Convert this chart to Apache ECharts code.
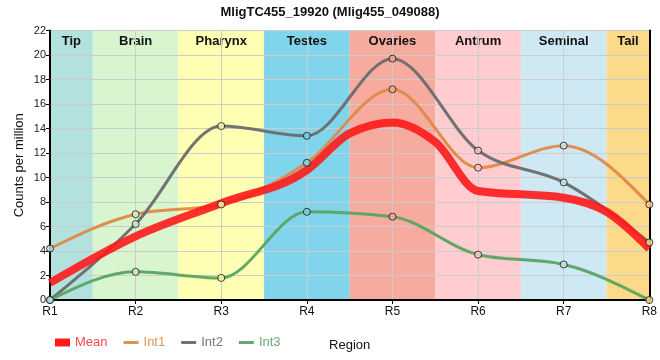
<!DOCTYPE html>
<html><head><meta charset="utf-8">
<script src="https://cdn.jsdelivr.net/npm/echarts@6/dist/echarts.min.js"></script>
<style>html,body{margin:0;padding:0;background:#fff}#c{width:660px;height:360px}</style>
</head><body><div id="c"></div>
<script>
var regions = ['R1','R2','R3','R4','R5','R6','R7','R8'];
var positions = [1,2,3,4,5,6,7,8];
var bandNames = ['Tip','Brain','Pharynx','Testes','Ovaries','Antrum','Seminal','Tail'];
var bandStart = [1,1.5,2.5,3.5,4.5,5.5,6.5,7.5];
var bandEnd = [1.5,2.5,3.5,4.5,5.5,6.5,7.5,8];
var bandColors = ['#b3e2de','#d8f5cf','#ffffb3','#80d4eb','#f6ab9e','#ffccd0','#cee9f4','#fdd98a'];
// mean line (no markers) read at region centres plus a few band edges
var meanPositions = [1, 2, 3, 4, 4.5, 5, 5.5, 6, 7, 7.5, 8];
var meanVals = [1.4, 5.2, 7.9, 10.6, 13.6, 14.5, 12.9, 8.9, 8.35, 7.2, 4.2];
var int1Vals = [4.2, 7.0, 7.8, 11.2, 17.2, 10.8, 12.6, 7.8];
var int2Vals = [0, 6.2, 14.2, 13.4, 19.7, 12.2, 9.6, 4.7];
var int3Vals = [0, 2.3, 1.8, 7.2, 6.8, 3.7, 2.9, 0];
var yTicks = [0,2,4,6,8,10,12,14,16,18,20,22];

var colors = {Mean:'#ff1a1a', Int1:'#df8a48', Int2:'#6b6b6b', Int3:'#5aa462'};
var textColors = {Mean:'#ff4a4a', Int1:'#e0955a', Int2:'#777777', Int3:'#66aa6e'};

function pairs(xs, vals){ return xs.map(function(p,i){ return [p, vals[i]]; }); }
function markerPairs(vals){ return positions.map(function(p,i){ return {value:[p, vals[i]], itemStyle:{color:bandColors[i]}}; }); }

// monotone cubic (Fritsch-Carlson, as d3.curveMonotoneX) tangents
function sgn(x){ return x < 0 ? -1 : 1; }
function tangents(xs, ys){
  var n = xs.length, t = new Array(n), s = [], h = [];
  for (var i=0;i<n-1;i++){ h[i]=xs[i+1]-xs[i]; s[i]=(ys[i+1]-ys[i])/h[i]; }
  for (var k=1;k<n-1;k++){
    var p = (s[k-1]*h[k] + s[k]*h[k-1])/(h[k-1]+h[k]);
    t[k] = (sgn(s[k-1])+sgn(s[k])) * Math.min(Math.abs(s[k-1]), Math.abs(s[k]), 0.5*Math.abs(p)) || 0;
  }
  t[0] = (3*s[0] - t[1])/2;
  t[n-1] = (3*s[n-2] - t[n-2])/2;
  return t;
}

var chart = echarts.init(document.getElementById('c'), null, {renderer:'canvas'});
var font = 'Liberation Sans, Arial, sans-serif';
var areas = bandNames.map(function(n,i){
  return [{xAxis:bandStart[i], yAxis:0, name:n, itemStyle:{color:bandColors[i]}}, {xAxis:bandEnd[i], yAxis:22}];
});
function curveSeries(name, xs, vals, width, z, opacity){
  var t = tangents(xs, vals);
  return {type:'custom', name:name, data:pairs(xs, vals), z:z, clip:false, silent:true,
    itemStyle:{color:colors[name]},
    renderItem:function(params, api){
      if (params.dataIndex !== 0) return null;
      var p0 = api.coord([xs[0], vals[0]]);
      var d = 'M' + p0[0] + ' ' + p0[1];
      for (var i=0;i<xs.length-1;i++){
        var dx = (xs[i+1]-xs[i])/3;
        var c1 = api.coord([xs[i]+dx, vals[i]+dx*t[i]]);
        var c2 = api.coord([xs[i+1]-dx, vals[i+1]-dx*t[i+1]]);
        var e = api.coord([xs[i+1], vals[i+1]]);
        d += ' C' + c1[0]+' '+c1[1]+' '+c2[0]+' '+c2[1]+' '+e[0]+' '+e[1];
      }
      return {type:'path', shape:{pathData:d}, style:{fill:'none', stroke:colors[name], lineWidth:width, opacity:opacity, lineJoin:'round', lineCap:'butt'}};
    },
    animation:false};
}
function markerSeries(name, vals){
  return {type:'scatter', name:name+'_pts', data:markerPairs(vals), symbol:'circle', symbolSize:7, z:20,
    itemStyle:{borderColor:'#111', borderWidth:1}, animation:false, silent:true};
}
chart.setOption({
  animation:false,
  textStyle:{fontFamily:font},
  title:{text:'MligTC455_19920 (Mlig455_049088)', left:'center', top:1,
    textStyle:{fontSize:13, fontWeight:'bold', color:'#111', fontFamily:font}},
  grid:{left:50, right:10, top:30.5, bottom:60, containLabel:false},
  legend:{left:50, top:331, itemGap:16, itemWidth:15, itemHeight:8,
    textStyle:{fontSize:13, fontFamily:font},
    data:[
      {name:'Mean', icon:'rect', textStyle:{color:textColors.Mean}},
      {name:'Int1', icon:'path://M0,0H16V3H0Z', textStyle:{color:textColors.Int1}},
      {name:'Int2', icon:'path://M0,0H16V3H0Z', textStyle:{color:textColors.Int2}},
      {name:'Int3', icon:'path://M0,0H16V3H0Z', textStyle:{color:textColors.Int3}}
    ]},
  xAxis:{type:'value', min:1, max:8, interval:1, z:3,
    name:'Region', nameLocation:'middle', nameGap:39, nameTextStyle:{fontSize:13, color:'#111', fontFamily:font},
    axisLine:{lineStyle:{color:'#000', width:2}},
    axisTick:{show:true, length:4, lineStyle:{color:'#000'}},
    axisLabel:{fontSize:12, color:'#111', margin:6, fontFamily:font, formatter:function(v){ return regions[positions.indexOf(v)] || ''; }},
    splitLine:{show:true, lineStyle:{color:'#cccccc', width:1}}},
  yAxis:[{type:'value', min:0, max:22, interval:2, z:3,
    name:'Counts per million', nameLocation:'middle', nameGap:24, nameMoveOverlap:false,
    nameTextStyle:{fontSize:13, color:'#111', fontFamily:font},
    axisLine:{show:true, lineStyle:{color:'#000', width:2}},
    axisTick:{show:true, length:4, lineStyle:{color:'#000'}},
    axisLabel:{fontSize:11, color:'#222', margin:4, fontFamily:font, formatter:function(v){ return yTicks.indexOf(v) >= 0 ? String(v) : ''; }},
    splitLine:{show:true, lineStyle:{color:'#cccccc', width:1}}},
    {type:'value', min:0, max:22, interval:2, position:'right', z:3,
    axisLine:{show:true, lineStyle:{color:'#000', width:2}}, axisTick:{show:false}, axisLabel:{show:false}, splitLine:{show:false}}],
  series:[
    {type:'line', name:'bands', data:[], z:0, silent:true,
      markArea:{silent:true, label:{show:true, position:'insideTop', distance:4, fontSize:13, fontWeight:'bold', color:'#111', fontFamily:font},
        data:areas}},
    curveSeries('Int1', positions, int1Vals, 3, 4, 0.95),
    curveSeries('Int2', positions, int2Vals, 3, 5, 0.95),
    curveSeries('Int3', positions, int3Vals, 3, 6, 0.95),
    curveSeries('Mean', meanPositions, meanVals, 8, 8, 0.9),
    markerSeries('Int1', int1Vals),
    markerSeries('Int2', int2Vals),
    markerSeries('Int3', int3Vals)
  ]
});
</script></body></html>
